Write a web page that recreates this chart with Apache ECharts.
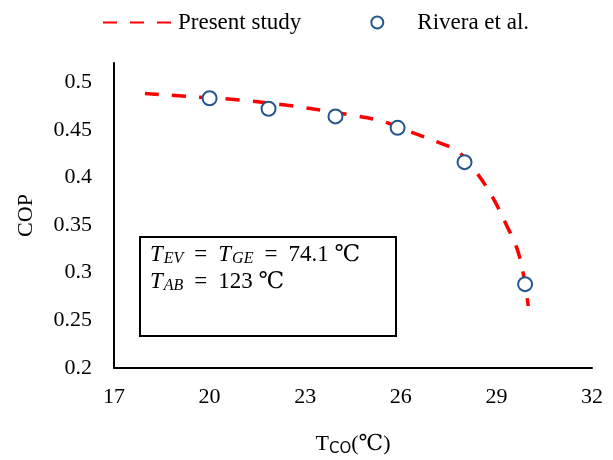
<!DOCTYPE html>
<html>
<head>
<meta charset="utf-8">
<script src="https://cdn.jsdelivr.net/npm/echarts@6/dist/echarts.min.js"></script>
<style>
  html, body { margin: 0; padding: 0; background: #fff; }
  #chart { width: 613px; height: 460px; }
</style>
</head>
<body>
<div id="chart"></div>
<script>
// Condenser temperature (°C) and COP of the model curve
const studyT   = [17.97, 19.3, 21.0, 22.7, 24.5, 25.4, 26.2, 27.0, 27.8, 28.4, 28.9, 29.3, 29.65, 29.85, 30.0];
const studyCOP = [0.488, 0.485, 0.481, 0.4745, 0.465, 0.459, 0.449, 0.439, 0.427, 0.404, 0.378, 0.351, 0.325, 0.298, 0.265];

// Reference data points (Rivera et al.)
const riveraT   = [20, 21.85, 23.95, 25.9, 28, 29.9];
const riveraCOP = [0.483, 0.472, 0.464, 0.452, 0.416, 0.288];

const seriesNames = ['Present study', 'Rivera et al.'];

// Axis ranges and tick spacing
const xRange = { min: 17, max: 32, interval: 3 };
const yRange = { min: 0.2, max: 0.52, interval: 0.05 };

const serif = '"Liberation Serif", "Times New Roman", "DejaVu Serif", serif';

const chart = echarts.init(document.getElementById('chart'), null, { renderer: 'canvas' });

chart.setOption({
  animation: false,
  backgroundColor: '#fff',
  textStyle: { fontFamily: serif, color: '#000' },
  grid: { left: 114, right: 21, top: 63, bottom: 92, outerBoundsMode: 'none', containLabel: false },
  legend: {
    left: 97,
    top: 6,
    itemWidth: 70,
    itemHeight: 12,
    itemGap: 69,
    textStyle: { fontSize: 23, fontFamily: serif, color: '#000' },
    data: [
      { name: seriesNames[0], itemStyle: { opacity: 0 } },
      { name: seriesNames[1], icon: 'circle' }
    ]
  },
  xAxis: {
    type: 'value',
    min: xRange.min,
    max: xRange.max,
    interval: xRange.interval,
    name: '{t|T}{s|CO}{t|(℃)}',
    nameLocation: 'middle',
    nameGap: 61,
    nameTextStyle: {
      rich: {
        t: { fontSize: 22, fontFamily: serif, color: '#000', lineHeight: 30 },
        s: { fontSize: 15, fontFamily: '"DejaVu Sans", sans-serif', color: '#000', lineHeight: 30, padding: [10, 0, 0, 0] }
      }
    },
    axisLine: { show: true, lineStyle: { color: '#000', width: 2 } },
    axisTick: { show: false },
    splitLine: { show: false },
    axisLabel: { fontSize: 22, fontFamily: serif, color: '#000', margin: 18 }
  },
  yAxis: {
    type: 'value',
    min: yRange.min,
    max: yRange.max,
    interval: yRange.interval,
    name: 'COP',
    nameLocation: 'middle',
    nameGap: 77,
    nameTextStyle: { fontSize: 22, fontFamily: serif, color: '#000' },
    axisLine: { show: true, lineStyle: { color: '#000', width: 2 } },
    axisTick: { show: false },
    splitLine: { show: false },
    axisLabel: { fontSize: 22, fontFamily: serif, color: '#000', margin: 22, showMaxLabel: false }
  },
  graphic: [
    {
      type: 'rect',
      left: 139,
      top: 236,
      shape: { width: 256, height: 99 },
      style: { fill: '#fff', stroke: '#000', lineWidth: 2 },
      z: 10
    },
    {
      type: 'text',
      left: 150,
      top: 242,
      z: 11,
      style: {
        text: '{i|T}{s|EV}{e|=}{i|T}{s|GE}{e|=}{n|74.1 ℃}\n{i|T}{s|AB}{e|=}{n|123 ℃}',
        rich: {
          i: { fontSize: 23, fontStyle: 'italic', fontFamily: serif, fill: '#000', lineHeight: 27 },
          s: { fontSize: 16, fontStyle: 'italic', fontFamily: serif, fill: '#000', lineHeight: 27, padding: [9, 0, 0, 1] },
          e: { fontSize: 23, fontFamily: serif, fill: '#000', lineHeight: 27, padding: [0, 11, 0, 11] },
          n: { fontSize: 23, fontFamily: serif, fill: '#000', lineHeight: 27 }
        }
      }
    }
  ],
  series: [
    {
      name: seriesNames[0],
      type: 'line',
      data: studyT.map((t, i) => [t, studyCOP[i]]),
      smooth: 0.35,
      showSymbol: false,
      symbol: 'none',
      lineStyle: { color: '#ff0000', width: 3.5, type: [14, 13], cap: 'butt' },
      itemStyle: { color: '#ff0000' },
      z: 2
    },
    {
      name: seriesNames[1],
      type: 'scatter',
      data: riveraT.map((t, i) => [t, riveraCOP[i]]),
      symbol: 'circle',
      symbolSize: 14,
      itemStyle: { color: '#fff', borderColor: '#26578a', borderWidth: 2, opacity: 1 },
      z: 3
    }
  ]
});
</script>
</body>
</html>
